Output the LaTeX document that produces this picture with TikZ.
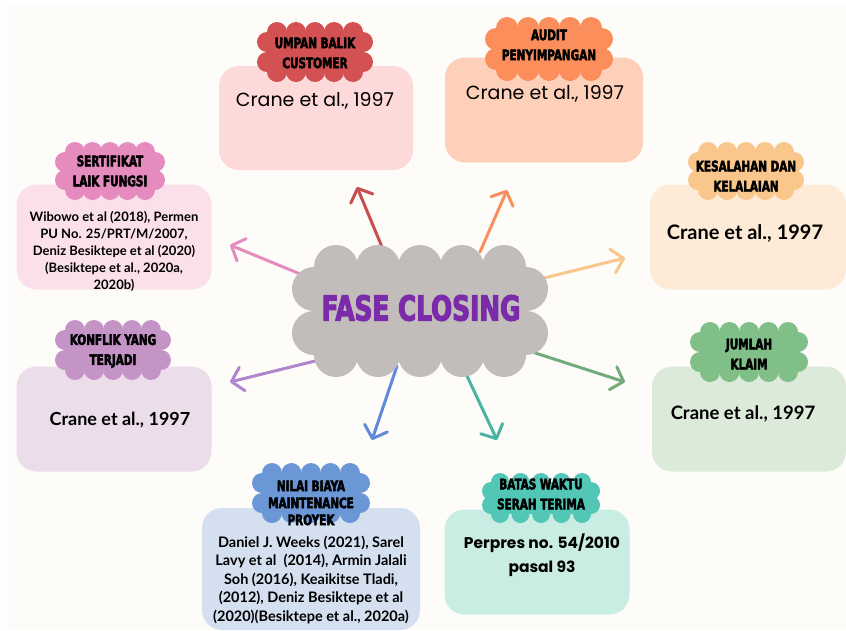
\documentclass[tikz,border=0pt]{standalone}
\usepackage{fontspec}
\setmainfont{Lato}
\newfontfamily\headfont[FakeStretch=0.8,FakeBold=3]{DejaVu Sans Condensed Bold}
\newfontfamily\popfont{Poppins}
\usetikzlibrary{arrows.meta}

\definecolor{latar}{HTML}{FDFCF9}
\definecolor{awan}{HTML}{C2BDBA}
\definecolor{ungu}{HTML}{7B2AA9}
\definecolor{merah}{HTML}{D35153}   \definecolor{merahM}{HTML}{FDD9DA}
\definecolor{oranye}{HTML}{FC8E5C}  \definecolor{oranyeM}{HTML}{FED0B9}
\definecolor{kuning}{HTML}{F9C78B}  \definecolor{kuningM}{HTML}{FEEBD7}
\definecolor{hijau}{HTML}{80BF88}   \definecolor{hijauM}{HTML}{DCEADA}
\definecolor{tosca}{HTML}{52C7B6}   \definecolor{toscaM}{HTML}{C9ECE3}
\definecolor{biru}{HTML}{6B97D7}    \definecolor{biruM}{HTML}{D4DFF0}
\definecolor{lila}{HTML}{C594C7}    \definecolor{lilaM}{HTML}{ECDDEA}
\definecolor{pink}{HTML}{E68BBE}    \definecolor{pinkM}{HTML}{FBE0EC}

% scalloped cloud: cx cy halfwidth halfheight radius ntop nside colour
\newcommand\puff[8]{%
  \fill[#8] ({#1-#3+#5},{#2-#4+#5}) rectangle ({#1+#3-#5},{#2+#4-#5});
  \foreach \k in {1,...,#6}{
    \pgfmathsetmacro\px{#1-#3+2*#5+(\k-1)*(2*#3-4*#5)/(#6-1)}
    \fill[#8] (\px,{#2-#4+#5}) circle[radius=#5pt] (\px,{#2+#4-#5}) circle[radius=#5pt];
  }
  \foreach \k in {1,...,#7}{
    \pgfmathsetmacro\py{#2-#4+2*#5+(\k-1)*(2*#4-4*#5)/(#7-1)}
    \fill[#8] ({#1-#3+#5},\py) circle[radius=#5pt] ({#1+#3-#5},\py) circle[radius=#5pt];
  }}

\begin{document}
\begin{tikzpicture}[x=1pt, y=-1pt,
  kotak/.style={rounded corners=20pt, inner sep=0pt},
  judul/.style={font=\headfont\fontsize{14.5}{20}\selectfont, align=center, inner sep=0pt},
  isi/.style={font=\bfseries\fontsize{18}{22}\selectfont, align=center, inner sep=0pt},
  tipis/.style={font=\popfont\fontsize{19}{22}\selectfont, align=center, inner sep=0pt},
  panah/.style={line width=3pt, line cap=round, -{Straight Barb[length=11pt,width=24pt,round]}}]
\useasboundingbox (0,0) rectangle (846,630);
\fill[white] (0,0) rectangle (846,630);
\fill[latar] (7,6) rectangle (846,630);

% boxes
\node[kotak, fill=merahM, minimum width=194pt, minimum height=104pt] (umpan) at (316,118) {};
\node[kotak, fill=oranyeM, minimum width=198pt, minimum height=105pt] (audit) at (544,110) {};
\node[kotak, fill=kuningM, minimum width=196pt, minimum height=105pt] (salah) at (748,237) {};
\node[kotak, fill=hijauM, minimum width=194pt, minimum height=105pt] (klaim) at (749,419) {};
\node[kotak, fill=toscaM, minimum width=185pt, minimum height=105pt] (batas) at (537,562) {};
\node[kotak, fill=biruM, minimum width=218pt, minimum height=122pt] (biaya) at (311,569) {};
\node[kotak, fill=lilaM, minimum width=195pt, minimum height=105pt] (konflik) at (114,419) {};
\node[kotak, fill=pinkM, minimum width=195pt, minimum height=105pt] (slf) at (114,237) {};

% clouds on top of the boxes
\puff{315}{52}{58}{30}{10}{5}{2}{merah}
\puff{549}{49}{64}{32}{11}{5}{2}{oranye}
\puff{746}{171}{58}{29}{10}{5}{2}{kuning}
\puff{749}{352}{59}{30}{10}{5}{2}{hijau}
\puff{541}{498}{59}{25}{9}{5}{2}{tosca}
\puff{311}{493}{59}{30}{10}{5}{2}{biru}
\puff{113}{350}{58}{30}{10}{5}{2}{lila}
\puff{110}{171}{55}{29}{10}{5}{2}{pink}

\node[judul] (umpanHd) at (315,53) {UMPAN BALIK\\CUSTOMER};
\node[judul] (auditHd) at (549,45) {AUDIT\\PENYIMPANGAN};
\node[judul] (salahHd) at (746,176) {KESALAHAN DAN\\KELALAIAN};
\node[judul] (klaimHd) at (749,354) {JUMLAH\\KLAIM};
\node[judul] (batasHd) at (541,494) {BATAS WAKTU\\SERAH TERIMA};
\node[judul, font=\headfont\fontsize{14.5}{17}\selectfont] (biayaHd) at (311,503) {NILAI BIAYA\\MAINTENANCE\\PROYEK};
\node[judul] (konflikHd) at (113,351) {KONFLIK YANG\\TERJADI};
\node[judul] (slfHd) at (110,171) {SERTIFIKAT\\LAIK FUNGSI};

\node[tipis] (umpanTx) at (315,101) {Crane et al., 1997};
\node[tipis] (auditTx) at (545,94) {Crane et al., 1997};
\node[isi, font=\bfseries\fontsize{20}{22}\selectfont] (salahTx) at (745,233) {Crane et al., 1997};
\node[isi, font=\bfseries\fontsize{18.5}{22}\selectfont] (klaimTx) at (743,414) {Crane et al., 1997};
\node[tipis, font=\popfont\bfseries\fontsize{15.5}{24}\selectfont] (batasTx) at (542,555) {Perpres no. 54/2010\\pasal 93};
\node[isi, font=\bfseries\fontsize{14.5}{18.5}\selectfont] (biayaTx) at (311,580)
  {Daniel J. Weeks (2021), Sarel\\Lavy et al\ \ (2014), Armin Jalali\\Soh (2016), Keaikitse Tladi,\\(2012), Deniz Besiktepe et al\\(2020)(Besiktepe et al., 2020a)};
\node[isi] (konflikTx) at (120,420) {Crane et al., 1997};
\node[isi, font=\bfseries\fontsize{13}{17}\selectfont] (slfTx) at (114,251)
  {Wibowo et al (2018), Permen\\PU No. 25/PRT/M/2007,\\Deniz Besiktepe et al (2020)\\(Besiktepe et al., 2020a,\\2020b)};

% arrows out of the centre
\coordinate (o1) at (382,247); \coordinate (t1) at (357,187);
\coordinate (o2) at (480,252); \coordinate (t2) at (507,190);
\coordinate (o3) at (540,279); \coordinate (t3) at (625,258);
\coordinate (o4) at (305,276); \coordinate (t4) at (230,245);
\coordinate (o5) at (315,361); \coordinate (t5) at (230,382);
\coordinate (o6) at (523,349); \coordinate (t6) at (625,382);
\coordinate (o7) at (397,366); \coordinate (t7) at (372,440);
\coordinate (o8) at (467,376); \coordinate (t8) at (497,440);
\draw[panah, merah!95!black] (o1) -- (t1);
\draw[panah, oranye] (o2) -- (t2);
\draw[panah, kuning] (o3) -- (t3);
\draw[panah, pink] (o4) -- (t4);
\draw[panah, lila!90!blue] (o5) -- (t5);
\draw[panah, hijau!90!black] (o6) -- (t6);
\draw[panah, biru!90!blue] (o7) -- (t7);
\draw[panah, tosca!90!black] (o8) -- (t8);

% centre cloud
\puff{420}{311}{128}{66}{22}{5}{2}{awan}
\node[font=\headfont\fontsize{34.5}{34}\selectfont, text=ungu, inner sep=0pt] (fc) at (421,308) {FASE CLOSING};
\end{tikzpicture}
\end{document}
